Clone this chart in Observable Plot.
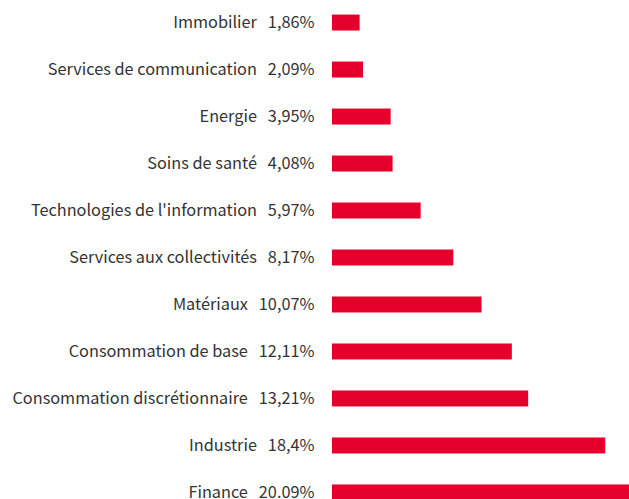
<!DOCTYPE html>
<html>
<head>
<meta charset="utf-8">
<script src="https://cdn.jsdelivr.net/npm/d3@7"></script>
<script src="https://cdn.jsdelivr.net/npm/@observablehq/plot@0.6"></script>
<style>
  html, body { margin: 0; padding: 0; background: #fff; overflow: hidden; }
  #chart svg { display: block; }
</style>
</head>
<body>
<div id="chart"></div>
<script>
const categories = [
  "Immobilier",
  "Services de communication",
  "Energie",
  "Soins de santé",
  "Technologies de l'information",
  "Services aux collectivités",
  "Matériaux",
  "Consommation de base",
  "Consommation discrétionnaire",
  "Industrie",
  "Finance"
];
const values = [1.86, 2.09, 3.95, 4.08, 5.97, 8.17, 10.07, 12.11, 13.21, 18.4, 20.09];
const valueLabels = ["1,86%", "2,09%", "3,95%", "4,08%", "5,97%", "8,17%", "10,07%", "12,11%", "13,21%", "18,4%", "20.09%"];

const data = categories.map((c, i) => ({category: c, value: values[i], label: valueLabels[i]}));
const labelOf = new Map(data.map(d => [d.category, d.category + "\u00a0\u00a0\u00a0" + d.label]));

const chart = Plot.plot({
  width: 629,
  height: 515,
  marginLeft: 332,
  marginRight: 0,
  marginTop: 0,
  marginBottom: 0,
  style: {fontFamily: "'Source Sans Pro', 'Noto Sans CJK SC', sans-serif", fontSize: "16.3px", color: "#333", background: "#fff"},
  x: {domain: [0, 20], axis: null},
  y: {domain: categories, paddingInner: 0.66, paddingOuter: 0.31, round: false, label: null},
  marks: [
    Plot.barX(data, {y: "category", x: "value", fill: "#e4002b"}),
    Plot.axisY({tickSize: 0, tickPadding: 18, tickFormat: d => labelOf.get(d), fill: "#333", fontSize: 16.3})
  ]
});
document.getElementById("chart").appendChild(chart);
</script>
</body>
</html>
